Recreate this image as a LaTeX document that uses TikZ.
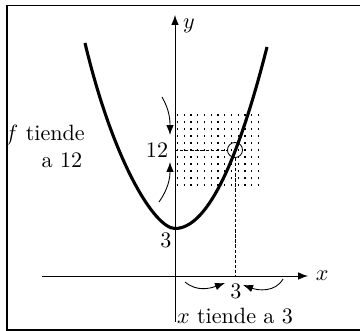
\documentclass[tikz,border=0pt]{standalone}
\usetikzlibrary{arrows.meta}
\begin{document}
\begin{tikzpicture}[x=4.52pt, y=4.52pt,
    curva/.style={line width=1.4pt},
    guia/.style={dash pattern=on 1.5pt off 0.8pt},
    punteado/.style={line width=0.55pt, dash pattern=on 0.55pt off 2.5pt},
    flecha/.style={-{Latex[length=4.5pt, width=3.4pt]}}]
    \useasboundingbox (-17.5,-5.5) rectangle (18.5,27.6);
    \draw[semithick] (20,-5.4) -- (-16.8,-5.4) -- (-16.8,27.05) -- (20,27.05);

    % malla de puntos alrededor de (3,12)
    \foreach \i in {0,...,10} {
        \draw[punteado] (0.2, 9.1+0.7*\i) -- (8.4, 9.1+0.7*\i);
    }

    % ejes
    \coordinate (O) at (0,0);
    \draw[flecha] (-13.3,0) -- (13.3,0) node[right] (xlab) {$x$};
    \draw[flecha] (0,-4.6) -- (0,26.1);
    \node (ylab) at (1.4,25) {$y$};

    % parabola
    \draw[curva] (-9,23.3) .. controls (-6.15,11.33) and (-2,4.75) .. (0,4.75)
        .. controls (3.07,4.75) and (6.13,10.8) .. (9.2,22.9);

    \node[circle, draw, inner sep=0pt, minimum size=6.8pt] (P) at (6,12.6) {};
    \coordinate (Py) at (0,12.6);
    \coordinate (Px) at (6,0);
    \draw[guia] (Py) -- (P.west);
    \draw[guia] (P.south) -- (Px);
    \draw[guia] (O) -- (Px);
    \draw[guia] (O) -- (Py);

    \node (doce) at (-1.8,12.6) {$12$};
    \node (tres) at (-0.9,3.6) {$3$};
    \node (tresx) at (6.1,-1.5) {$3$};
    \node (ftext) at (-13.0,14.1) {$f$ tiende};
    \node (atext) at (-11.3,11.6) {a $12$};
    \node (xtext) at (6.0,-4.0) {$x$ tiende a $3$};

    % flechas curvas
    \coordinate (a1) at (-1.3,17.9);
    \coordinate (a2) at (-0.5,14.1);
    \coordinate (b1) at (-1.6,7.4);
    \coordinate (b2) at (-0.5,11.4);
    \coordinate (c1) at (1.0,-0.6);
    \coordinate (c2) at (5.0,-0.7);
    \coordinate (d1) at (10.8,-0.3);
    \coordinate (d2) at (6.8,-0.9);
    \draw[flecha] (a1) to[out=-60, in=90] (a2);
    \draw[flecha] (b1) to[out=55, in=-90] (b2);
    \draw[flecha] (c1) to[out=-40, in=200] (c2);
    \draw[flecha] (d1) to[out=-120, in=-20] (d2);
\end{tikzpicture}
\end{document}
